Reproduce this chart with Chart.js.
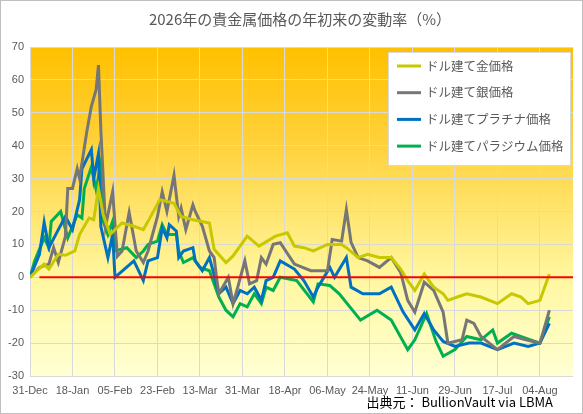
<!DOCTYPE html>
<html><head><meta charset="utf-8">
<script src="https://cdn.jsdelivr.net/npm/chart.js@4"></script>
<style>html,body{margin:0;padding:0;background:#fff}#w{width:583px;height:414px}</style>
</head><body><div id="w"><canvas id="c"></canvas></div>
<script>
const tickLabels = ['31-Dec','18-Jan','05-Feb','23-Feb','13-Mar','31-Mar','18-Apr','06-May','24-May','11-Jun','29-Jun','17-Jul','04-Aug'];
const seriesNames = ['ドル建て金価格','ドル建て銀価格','ドル建てプラチナ価格','ドル建てパラジウム価格'];

const goldDays = [0,3,6,8,12,15,19,21,25,27,29,31,34,36,39,44,48,50,55,61,64,69,76,78,83,86,92,97,104,109,112,116,120,126,132,134,139,143,148,153,157,160,163,167,171,175,177,181,185,191,198,204,208,211,216,220];
const goldVals = [0,2,4,2.5,7,6.7,8,13,18,17.5,27,19,13,14.5,16.5,15.5,14.5,17,23.6,22.5,18.5,17.5,16.5,8.5,4.5,6.5,12.5,9.5,12.5,13.5,9.5,9,8,10,10,9,6,7,6,6,2.5,-1,-4,1,-3,-5,-7,-6,-5,-6,-8,-5,-6,-8,-7,1];

const silverDays = [0,4,8,10,12,15,16,18,20,21,24,26,28,29,30,32,35,37,39,42,45,48,50,54,56,58,61,63,64,66,69,70,73,76,78,79,80,84,86,88,91,93,96,98,100,103,106,112,119,126,128,132,134,136,139,143,148,153,157,160,163,167,171,175,177,183,185,188,191,198,205,210,216,220];
const silverVals = [0,3,4,9,4.5,12.4,27,27,33,30,44,52,57,64.5,45,15.5,26,6.4,8,19.7,8,4.5,8,18.5,26,20,31,18.5,21,14.5,22,20,15.5,8,6,0,-5,0,-8,-3,5,-2,-1,6,4,10,10.5,4,2,2,11.5,11,20.6,10.6,6,5,3,6,1.5,-7,-10.6,-1.5,-4,-10.6,-20,-19,-13,-14,-18,-22,-18,-19,-20,-10];

const platDays = [0,4,6,8,12,15,18,21,22,26,27,29,30,33,35,36,44,48,50,54,56,58,59,62,63,65,69,70,73,76,79,80,83,86,89,92,95,98,100,103,106,112,116,120,122,127,129,134,136,141,148,153,158,163,167,171,175,180,186,191,198,205,211,216,220];
const platVals = [0,7,16.7,9,14.5,18.5,14.5,23.6,33,38.8,30,37.6,15.5,6,13,0,5,-1,5,6,15,12,16,14,6,8,9,5,2,6,-2,-5,-3,-8,-4,-5,-3,-7,-1,0,5,2.5,-1,-6,-3,3,0,6,-3,-5,-5,-3,-10.5,-16,-11,-16,-19.5,-21,-20,-20,-22,-20,-21,-20,-14];

const pallDays = [0,2,6,8,9,13,16,20,22,23,26,28,30,31,33,35,36,41,45,48,50,54,56,58,62,63,65,69,72,76,79,80,83,86,89,92,95,98,100,103,106,113,120,122,127,131,140,147,153,160,163,168,172,175,180,185,191,196,198,204,212,216,220];
const pallVals = [0,5,12,9,17,20,12,19,18,27,33.5,26.7,34.5,17,13,17,8,9,6,8,10,11,16,13,13,8,4.5,6,3,2,-4,-6,-10,-12,-8,-9,-5,-8,-3,-4,0,-1,-7.5,-2,-2.5,-5,-13,-10,-13,-22,-19,-11,-19.5,-24,-22,-18,-19,-16,-20,-17,-19,-20,-12];

const zeroDays = [4,230];
const zeroVals = [0,0];

const pts = (d,v)=>d.map((x,i)=>({x:x,y:v[i]}));
const colors = ['#C8C800','#767676','#0070C0','#00B050'];

const bg = {
  id:'bg',
  beforeDraw(ch){
    const {ctx,chartArea:a}=ch;
    ctx.save();
    ctx.fillStyle='#fff';ctx.fillRect(0,0,ch.width,ch.height);
    const g=ctx.createLinearGradient(0,a.top,0,a.bottom);
    g.addColorStop(0,'#FFC000');g.addColorStop(0.3,'#FFD23C');g.addColorStop(0.7,'#FFF7A0');g.addColorStop(1,'#FFFFD2');
    ctx.fillStyle=g;ctx.fillRect(a.left,a.top,a.right-a.left,a.bottom-a.top);
    ctx.restore();
  },
  afterDraw(ch){
    const ctx=ch.ctx;
    ctx.save();
    ctx.strokeStyle='#bfbfbf';ctx.lineWidth=1;ctx.strokeRect(0.5,0.5,ch.width-1,ch.height-1);
    ctx.fillStyle='#595959';ctx.font='15px "Noto Sans CJK JP"';ctx.textAlign='center';ctx.textBaseline='middle';
    ctx.fillText('2026年の貴金属価格の年初来の変動率（%）',300,19);
    ctx.fillStyle='#000';ctx.font='13px "Noto Sans CJK JP"';ctx.textAlign='right';
    ctx.fillText('出典元： BullionVault via LBMA',553,402);
    ctx.fillStyle='#fff';ctx.fillRect(388,52,182,113);
    ctx.strokeStyle='#d9d9d9';ctx.strokeRect(388.5,52.5,182,113);
    ctx.font='12.5px "Noto Sans CJK JP"';ctx.textAlign='left';
    seriesNames.forEach((n,i)=>{
      const y=66+i*26.7;
      ctx.strokeStyle=colors[i];ctx.lineWidth=3;
      ctx.beginPath();ctx.moveTo(397,y);ctx.lineTo(421,y);ctx.stroke();
      ctx.fillStyle='#595959';ctx.fillText(n,426,y);
    });
    ctx.restore();
  }
};

const ds = [
  {data:pts(zeroDays,zeroVals),borderColor:'#FF0000',borderWidth:2},
  {data:pts(goldDays,goldVals),borderColor:colors[0],borderWidth:3},
  {data:pts(silverDays,silverVals),borderColor:colors[1],borderWidth:3},
  {data:pts(platDays,platVals),borderColor:colors[2],borderWidth:3},
  {data:pts(pallDays,pallVals),borderColor:colors[3],borderWidth:3},
].map(d=>Object.assign(d,{pointRadius:0,fill:false,tension:0}));

new Chart(document.getElementById('c'),{
  type:'line',
  data:{datasets:ds},
  plugins:[bg],
  options:{
    responsive:true,maintainAspectRatio:false,animation:false,
    layout:{padding:{top:47,right:10,left:0,bottom:0}},
    plugins:{legend:{display:false},tooltip:{enabled:false}},
    scales:{
      x:{type:'linear',min:0,max:230,
        afterBuildTicks(s){s.ticks=tickLabels.map((l,i)=>({value:i*18}));},
        ticks:{callback:(v)=>tickLabels[Math.round(v/18)],color:'#595959',font:{size:11},maxRotation:0,autoSkip:false,padding:8},
        grid:{color:'#d9d9d9',drawTicks:false},border:{display:false},
        afterFit(s){s.height=38;}},
      y:{min:-30,max:70,
        ticks:{stepSize:10,color:'#595959',font:{size:11},padding:6},
        grid:{color:'#d9d9d9',drawTicks:false},border:{display:false},
        afterFit(s){s.width=30;}}
    }
  }
});
</script></body></html>
